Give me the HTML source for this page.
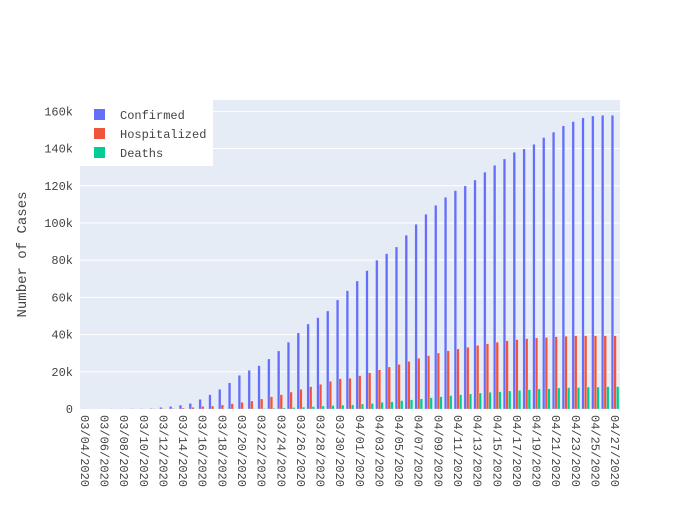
<!DOCTYPE html>
<html><head><meta charset="utf-8"><style>
body{margin:0;background:#fff}
svg text{font-family:"Liberation Mono",monospace;fill:#444}
</style></head><body>
<svg width="700" height="500" xmlns="http://www.w3.org/2000/svg">
<rect x="80" y="100" width="540" height="309" fill="#e5ecf6"/>
<g id="grid"></g><g id="bars"></g><g id="xt"></g><g id="yt"></g>
<text x="26" y="254.5" font-size="14" text-anchor="middle" transform="rotate(-90 26 254.5)">Number of Cases</text>
<g>
<rect x="80" y="100" width="133" height="66" fill="#fff"/>
<g><rect x="94" y="109" width="11" height="11" fill="#636efa"/><text x="120" y="119" font-size="12">Confirmed</text></g>
<g><rect x="94" y="128" width="11" height="11" fill="#ef553b"/><text x="120" y="138" font-size="12">Hospitalized</text></g>
<g><rect x="94" y="147" width="11" height="11" fill="#00cc96"/><text x="120" y="157" font-size="12">Deaths</text></g>
</g>
</svg>
<script>
const startDate = [2020, 3, 4];
const nDays = 55;
const confirmed = [0,0,0,100,100,200,200,300,900,1400,2100,3000,5200,7700,10600,14100,18100,20800,23300,26900,31200,35900,40900,45700,49100,52700,58600,63600,68800,74400,80000,83500,87100,93400,99300,104700,109500,113800,117400,119900,123100,127300,131000,134400,138000,139800,142300,145900,148800,152200,154500,156500,157500,157900,157900];
const hospitalized = [0,0,0,0,0,0,100,200,200,300,500,900,1400,1600,2200,2900,3600,4300,5400,6600,7700,9100,10600,12000,13300,14900,16300,16500,17900,19500,21100,22600,24000,25600,27300,28700,30100,31300,32300,33200,34200,35100,35900,36700,37300,37800,38200,38500,38900,39100,39400,39400,39400,39400,39400];
const deaths = [0,0,0,0,0,0,0,0,0,0,0,0,0,0,0,0,100,200,300,400,600,800,1000,1300,1600,1900,2100,2200,2700,3000,3600,3900,4500,5000,5500,6100,6600,7200,7700,8100,8600,9000,9300,9700,10000,10400,10800,10900,11300,11500,11600,11800,11800,12000,12000];
const yTicks = [0,20000,40000,60000,80000,100000,120000,140000,160000];
const yTickLabels = ["0","20k","40k","60k","80k","100k","120k","140k","160k"];
const NS="http://www.w3.org/2000/svg";
const x0=80,x1=620,y0=409,y1=100,yMax=166100;
const bw=(x1-x0)/nDays;
const xc=i=>x0+bw*(i+0.5);
const ys=v=>y0-(v/yMax)*(y0-y1);
function mk(t,a,p){const e=document.createElementNS(NS,t);for(const k in a)e.setAttribute(k,a[k]);p.appendChild(e);return e;}
const grid=document.getElementById('grid'),yt=document.getElementById('yt'),xt=document.getElementById('xt'),bars=document.getElementById('bars');
yTicks.forEach((v,k)=>{
 if(v>0){const l=mk('line',{x1:x0,x2:x1,y1:ys(v),y2:ys(v),stroke:'#fff','stroke-width':1},grid);
 
 }
 const t=mk('text',{x:73,y:ys(v)+4,'font-size':12,'text-anchor':'end'},yt);t.textContent=yTickLabels[k];
 
 
});
const pad=n=>String(n).padStart(2,'0');
for(let i=0;i<nDays;i+=2){
 const d=new Date(startDate[0],startDate[1]-1,startDate[2]+i);
 const lbl=pad(d.getMonth()+1)+'/'+pad(d.getDate())+'/'+d.getFullYear();
 const x=xc(i)-4,y=415;
 const t=mk('text',{x:x,y:y,'font-size':12,transform:`rotate(90 ${x} ${y})`},xt);t.textContent=lbl;
 
 
}
const series=[[confirmed,'#636efa','bar-confirmed'],[hospitalized,'#ef553b','bar-hospitalized'],[deaths,'#00cc96','bar-deaths']];
const gw=bw*0.8,sw=gw/3;
series.forEach((s,si)=>{
 s[0].forEach((v,i)=>{
  const x=xc(i)-gw/2+si*sw;
  const r=mk('rect',{x:x,y:ys(v),width:sw,height:y0-ys(v),fill:s[1],stroke:'rgba(255,255,255,0.5)','stroke-width':0.5},bars);
  
  
 });
});
</script>
</body></html>
